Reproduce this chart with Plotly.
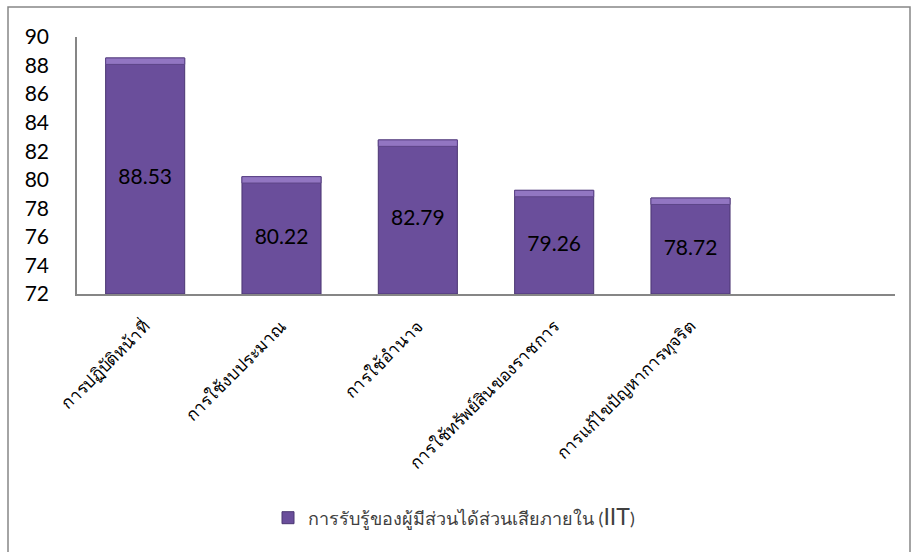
import plotly.graph_objects as go

categories = ["การปฏิบัติหน้าที่", "การใช้งบประมาณ", "การใช้อำนาจ",
              "การใช้ทรัพย์สินของราชการ", "การแก้ไขปัญหาการทุจริต", " "]
values = [88.53, 80.22, 82.79, 79.26, 78.72, None]
value_labels = ["88.53", "80.22", "82.79", "79.26", "78.72", ""]
series_name = "การรับรู้ของผู้มีส่วนได้ส่วนเสียภายใน (<span style='font-size:23px'>IIT</span>)"
y_ticks = [72, 74, 76, 78, 80, 82, 84, 86, 88, 90]

W, H = 911, 552
L, R, T, B = 77, 16, 37, 258
pw, ph = W - L - R, H - T - B

def px_x(x):
    return (x - L) / pw

def px_y(y):
    return (H - B - y) / ph

bevel = 0.45
fig = go.Figure()
fig.add_trace(go.Bar(
    x=categories, y=[v - 72 if v is not None else None for v in values], base=72,
    name=series_name,
    marker=dict(color="#6a4e9b", line=dict(color="#4b3672", width=1)),
    text=value_labels, textposition="inside", insidetextanchor="middle",
    textfont=dict(size=21, color="#000000", family="Lato, 'Open Sans', sans-serif"),
    textangle=0,
))
fig.add_trace(go.Bar(
    x=categories, y=[bevel if v is not None else None for v in values],
    base=[v - bevel if v is not None else None for v in values],
    marker=dict(color="#9276c2", line=dict(color="#5d4588", width=1)),
    showlegend=False, hoverinfo="skip",
))

fig.update_layout(
    width=W, height=H,
    margin=dict(l=L, r=R, t=T, b=B),
    paper_bgcolor="white", plot_bgcolor="white",
    barmode="overlay", bargap=0.42,
    font=dict(family="Lato, 'Noto Sans', sans-serif", color="#000000"),
    showlegend=True,
    legend=dict(orientation="h", x=px_x(268), xanchor="left", y=px_y(518), yanchor="middle",
                font=dict(size=18, color="#404040"), itemwidth=30),
    xaxis=dict(type="category", categoryorder="array", categoryarray=categories,
               range=[-0.5, 5.5], showline=True, linecolor="#868686", linewidth=1.5,
               showgrid=False, ticks="", tickangle=-45,
               tickfont=dict(size=17, color="#000000"), ticklabelstandoff=14),
    yaxis=dict(range=[72, 90], tickvals=y_ticks, showline=True, linecolor="#868686",
               linewidth=1.5, showgrid=False, zeroline=False, ticks="",
               tickfont=dict(size=21, color="#000000"), ticklabelstandoff=22),
    shapes=[dict(type="rect", xref="paper", yref="paper",
                 x0=px_x(8), x1=px_x(910), y0=px_y(600), y1=px_y(7),
                 line=dict(color="#868686", width=1.5), fillcolor="rgba(0,0,0,0)",
                 layer="below")],
)

fig.write_html("out.html")
